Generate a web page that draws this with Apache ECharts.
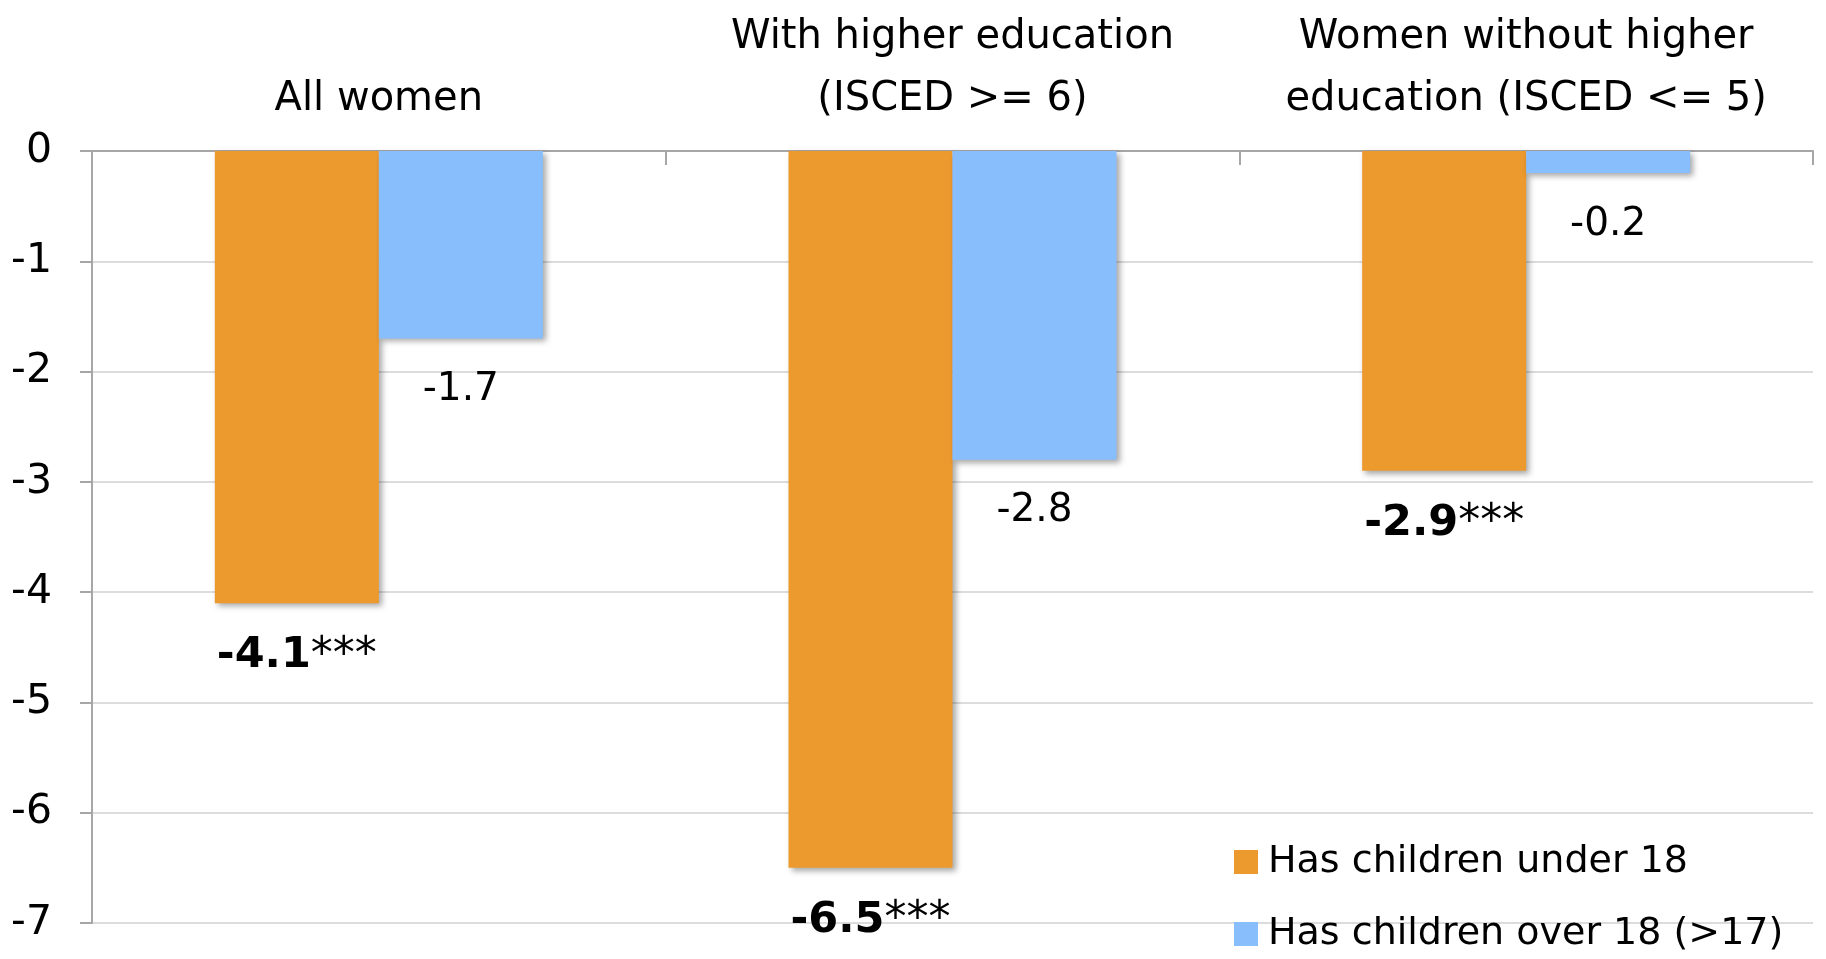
<!DOCTYPE html>
<html>
<head>
<meta charset="utf-8">
<script src="https://cdn.jsdelivr.net/npm/echarts@6/dist/echarts.min.js"></script>
<style>
html,body{margin:0;padding:0;background:#fff;}
#chart{width:1826px;height:959px;}
</style>
</head>
<body>
<div id="chart"></div>
<script>
const categories = ['All women', 'With higher education\n(ISCED >= 6)', 'Women without higher\neducation (ISCED <= 5)'];
const seriesNames = ['Has children under 18', 'Has children over 18 (>17)'];
const under18 = [-4.1, -6.5, -2.9];
const over18 = [-1.7, -2.8, -0.2];
const under18Stars = ['***', '***', '***'];
const yTicks = { min: -7, max: 0, interval: 1 };

const FONT = 'DejaVu Sans';
const chart = echarts.init(document.getElementById('chart'));
const shadow = { shadowColor: 'rgba(0,0,0,0.35)', shadowBlur: 6, shadowOffsetX: 3, shadowOffsetY: 3 };

chart.setOption({
  animation: false,
  backgroundColor: '#ffffff',
  textStyle: { fontFamily: FONT, color: '#000' },
  grid: { left: 92, right: 13, top: 151, bottom: 36, containLabel: false },
  legend: {
    orient: 'vertical',
    left: 1229,
    top: 838,
    itemWidth: 24,
    itemHeight: 24,
    itemGap: 34,
    icon: 'rect',
    data: seriesNames,
    textStyle: { fontFamily: FONT, fontSize: 38, color: '#000', padding: [0, 0, 0, 5] }
  },
  xAxis: {
    type: 'category',
    position: 'top',
    data: categories,
    axisLine: { lineStyle: { color: '#a6a6a6', width: 2 } },
    axisTick: { show: true, inside: true, length: 14, lineStyle: { color: '#a6a6a6', width: 2 } },
    axisLabel: { fontFamily: FONT, fontSize: 40, color: '#000', lineHeight: 62, margin: 20, interval: 0 }
  },
  yAxis: {
    type: 'value',
    min: yTicks.min,
    max: yTicks.max,
    interval: yTicks.interval,
    axisLine: { show: true, lineStyle: { color: '#a6a6a6', width: 2 } },
    axisTick: { show: true, length: 12, lineStyle: { color: '#a6a6a6', width: 2 } },
    splitLine: { lineStyle: { color: '#dcdcdc', width: 2 } },
    axisLabel: { fontFamily: FONT, fontSize: 41, color: '#000', margin: 40 }
  },
  series: [
    {
      name: seriesNames[0],
      type: 'bar',
      data: under18,
      barWidth: 164,
      barGap: '0%',
      itemStyle: Object.assign({ color: '#ec992d' }, shadow),
      label: {
        show: true,
        position: 'bottom',
        distance: 30,
        formatter: p => '{b|' + p.value + '}{s|' + under18Stars[p.dataIndex] + '}',
        rich: {
          b: { fontFamily: FONT, fontSize: 43, fontWeight: 'bold', color: '#000', lineHeight: 46 },
          s: { fontFamily: FONT, fontSize: 44, color: '#000', lineHeight: 46 }
        }
      }
    },
    {
      name: seriesNames[1],
      type: 'bar',
      data: over18,
      barWidth: 164,
      barGap: '0%',
      itemStyle: Object.assign({ color: '#89befc' }, shadow),
      label: {
        show: true,
        position: 'bottom',
        distance: 32,
        fontFamily: FONT,
        fontSize: 39,
        color: '#000',
        formatter: p => String(p.value)
      }
    }
  ]
});
</script>
</body>
</html>
